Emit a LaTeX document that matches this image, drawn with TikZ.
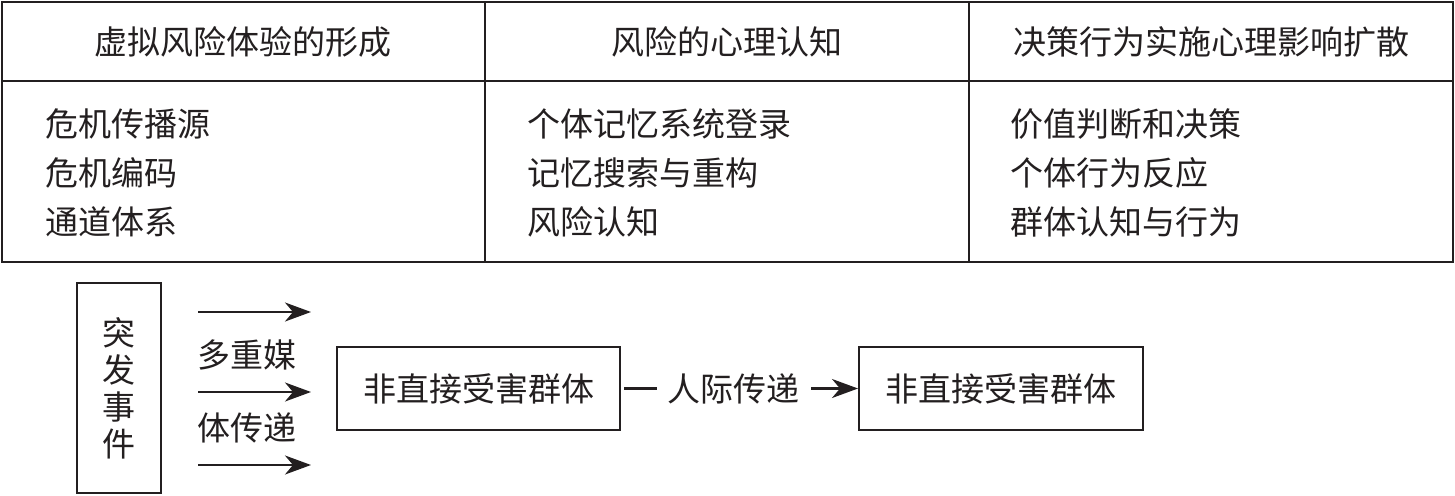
\documentclass[tikz,border=0pt]{standalone}
\usepackage{fontspec}
\setmainfont{Noto Sans CJK SC}
\usetikzlibrary{arrows.meta,positioning}
\definecolor{ink}{HTML}{231F20}

\begin{document}
\begin{tikzpicture}[x=1pt,y=-1pt,ink,
    every node/.style={font=\fontsize{33}{37}\selectfont,inner sep=0pt},
    grid/.style={line width=2.4pt},
    stagebox/.style={draw,line width=2pt,minimum height=83pt},
    flow/.style={line width=2.2pt,-{Stealth[length=26pt,width=19pt,inset=8pt]}}]
    \useasboundingbox (0,0) rectangle (1455,495);

    % table
    \draw[grid] (2,2) rectangle (1453,262);
    \draw[grid] (2,81) -- (1453,81);
    \draw[grid] (485,2) -- (485,262);
    \draw[grid] (969,2) -- (969,262);

    \node (h1) at (243,42) {虚拟风险体验的形成};
    \node (h2) at (727,42) {风险的心理认知};
    \node (h3) at (1211,42) {决策行为实施心理影响扩散};

    \foreach \t [count=\i] in {危机传播源,危机编码,通道体系} {
        \node[anchor=west] (a\i) at (45,75 + 49*\i) {\t};
    }
    \foreach \t [count=\i] in {个体记忆系统登录,记忆搜索与重构,风险认知} {
        \node[anchor=west] (b\i) at (527,75 + 49*\i) {\t};
    }
    \foreach \t [count=\i] in {价值判断和决策,个体行为反应,群体认知与行为} {
        \node[anchor=west] (c\i) at (1010,75 + 49*\i) {\t};
    }

    % flow below
    \node[draw,line width=2pt,minimum width=84pt,minimum height=210pt,align=center]
        (event) at (119,388) {突\\发\\事\\件};
    \node[stagebox,minimum width=283pt] (group1) at (478.5,388.5) {非直接受害群体};
    \node[stagebox,minimum width=284pt,right=237pt of group1] (group2) {非直接受害群体};

    \foreach \y/\n in {312/1,392/2,465/3} {
        \coordinate (s\n) at (198,\y);
        \coordinate (e\n) at (311,\y);
        \draw[flow] (s\n) -- (e\n);
    }
    \node[anchor=west] (media1) at (197,355) {多重媒};
    \node[anchor=west] (media2) at (197,428) {体传递};

    \draw[flow,shorten <=3pt] (group1) -- node[pos=0.475,fill=white,inner xsep=11pt,inner ysep=4pt] (talk) {人际传递} (group2);
\end{tikzpicture}
\end{document}
